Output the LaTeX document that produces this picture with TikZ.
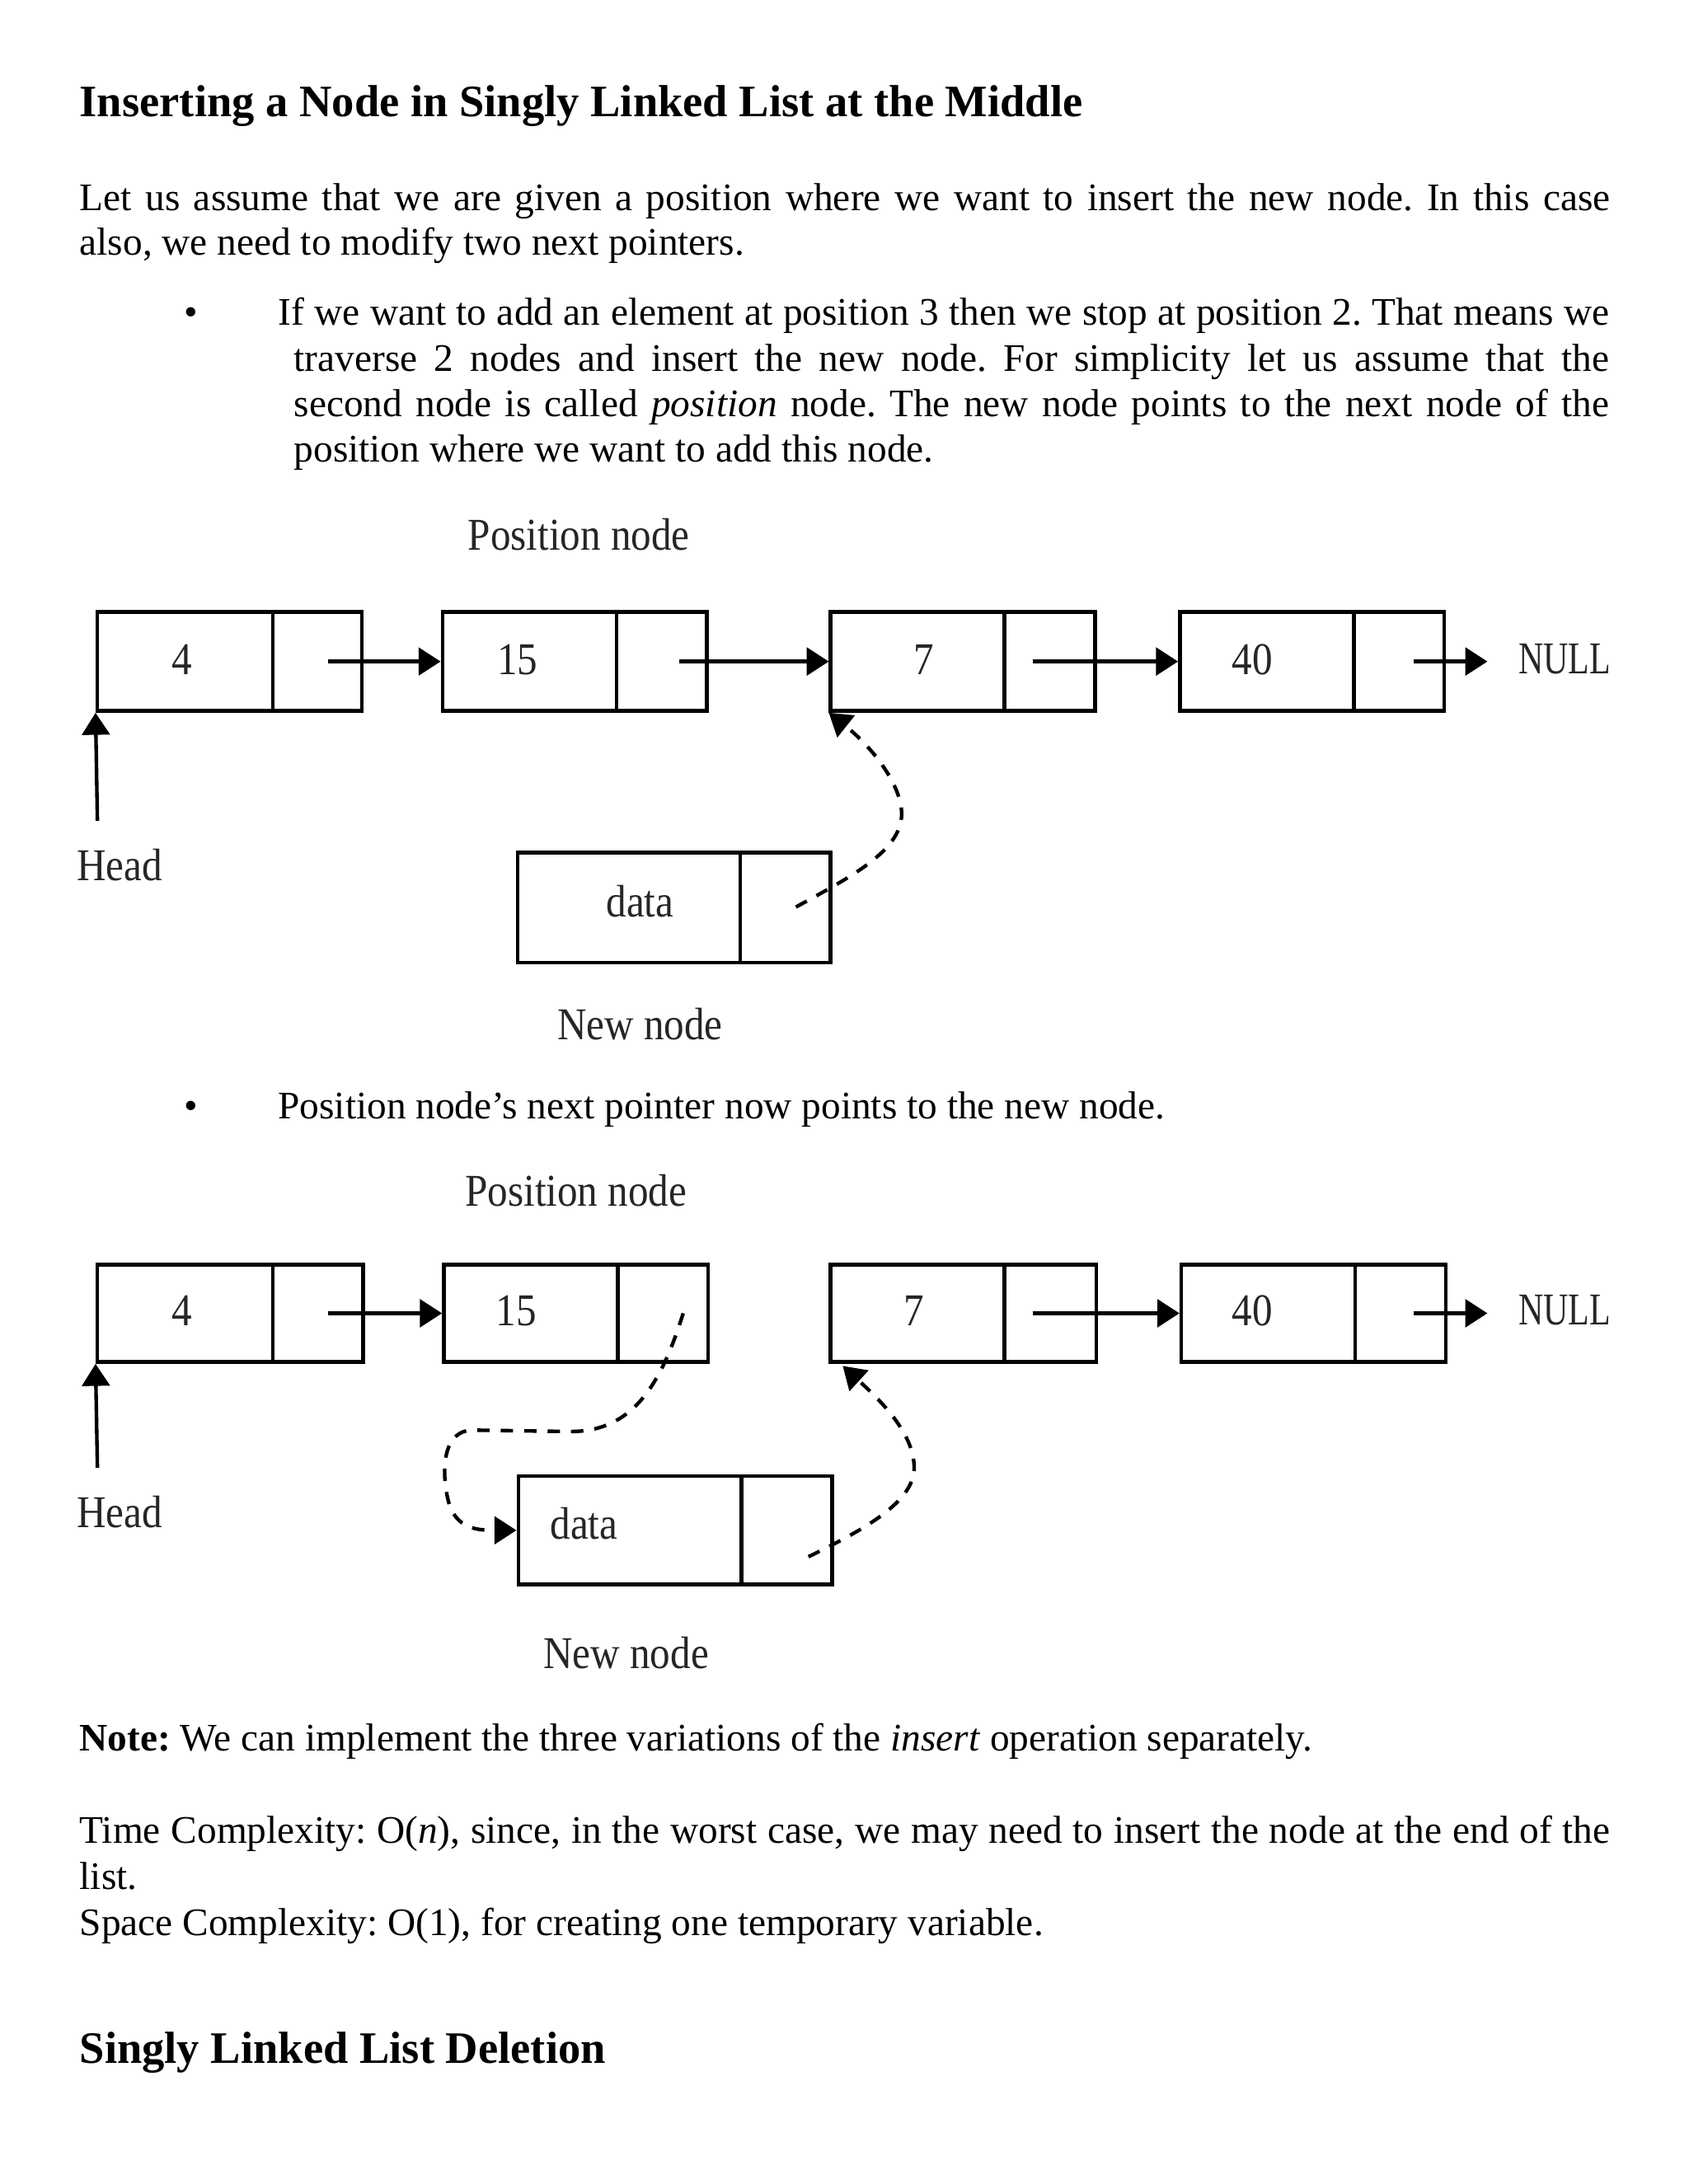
\documentclass[tikz,border=0pt]{standalone}
\usepackage{fontspec}
\setmainfont{Liberation Serif}
\newfontfamily\dfont[FakeStretch=0.89]{Liberation Serif}
\newfontfamily\nfont[FakeStretch=0.76]{Liberation Serif}
\usetikzlibrary{arrows.meta,fit,calc}
\frenchspacing
\begin{document}
\frenchspacing
\begin{tikzpicture}[x=0.5044pt,y=-0.5044pt,
  cellbox/.style={draw, line width=1.35pt, inner sep=0pt},
  val/.style={font=\dfont\fontsize{16.5}{18}\selectfont, text=black!85, inner sep=0pt},
  nullval/.style={font=\nfont\fontsize{16.5}{18}\selectfont, text=black!85, inner sep=0pt, anchor=west},
  ptr/.style={-{Triangle[length=8pt,width=10pt]}, line width=1.3pt},
  dptr/.style={ptr, dash pattern=on 4.5pt off 4pt},
  body/.style={anchor=base west, inner sep=0pt, font=\fontsize{14.15}{16.5}\selectfont},
  heading/.style={anchor=base west, inner sep=0pt, font=\bfseries\fontsize{16.3}{19}\selectfont},
  bul/.style={anchor=base, inner sep=0pt, font=\fontsize{14.15}{16.5}\selectfont}
]
\fill[white] (0,0) rectangle (1213.3,1569.9);
\path[use as bounding box] (0,0) rectangle (1213.3,1569.9);

% ---------- text ----------
\node[heading] (h1) at (56.9,83.9) {Inserting a Node in Singly Linked List at the Middle};
\node[body] (t1) at (56.9,151.1) {\makebox[554.8pt][s]{Let us assume that we are given a position where we want to insert the new node. In this case}};
\node[body] (t2) at (56.9,183.6) {also, we need to modify two next pointers.};
\node[bul] (b1) at (137.2,234) {•};
\node[body] (t3) at (199.5,234) {\makebox[482.5pt][s]{If we want to add an element at position 3 then we stop at position 2. That means we}};
\node[body] (t4) at (210.9,266.6) {\makebox[476.7pt][s]{traverse 2 nodes and insert the new node. For simplicity let us assume that the}};
\node[body] (t5) at (210.9,299.2) {\makebox[476.7pt][s]{second node is called \textit{position} node. The new node points to the next node of the}};
\node[body] (t6) at (210.9,331.8) {position where we want to add this node.};
\node[bul] (b2) at (137.2,804) {•};
\node[body] (t7) at (199.5,804) {Position node’s next pointer now points to the new node.};
\node[body] (t8) at (56.9,1258.3) {\textbf{Note:} We can implement the three variations of the \textit{insert} operation separately.};
\node[body] (t9) at (56.9,1325) {\makebox[554.8pt][s]{Time Complexity: O(\textit{n}), since, in the worst case, we may need to insert the node at the end of the}};
\node[body] (t10) at (56.9,1358.2) {list.};
\node[body] (t11) at (56.9,1391.2) {Space Complexity: O(1), for creating one temporary variable.};
\node[heading] (h2) at (56.9,1483) {Singly Linked List Deletion};

% ---------- diagram 1 ----------
\node[val] (pos1) at (416,384) {Position node};
\node[cellbox, fit={(70,440) (196,511)}] (a1d) {};
\node[cellbox, fit={(196,440) (260,511)}] (a1p) {};
\node[cellbox, fit={(318,440) (443,511)}] (a2d) {};
\node[cellbox, fit={(443,440) (508,511)}] (a2p) {};
\node[cellbox, fit={(597,440) (722,511)}] (a3d) {};
\node[cellbox, fit={(722,440) (787,511)}] (a3p) {};
\node[cellbox, fit={(848,440) (973,511)}] (a4d) {};
\node[cellbox, fit={(973,440) (1038,511)}] (a4p) {};
\node[val] (v11) at (131,474) {4};
\node[val] (v12) at (372,474) {15};
\node[val] (v13) at (664,474) {7};
\node[val] (v14) at (900,474) {40};
\node[nullval] (n1) at (1091,474) {NULL};
\coordinate (n1e) at (1069,475.5);
\draw[ptr] ($(a1p.center)+(8,0)$) -- (a2d.west);
\draw[ptr] ($(a2p.center)+(12.5,0)$) -- (a3d.west);
\draw[ptr] ($(a3p.center)+(-12.5,0)$) -- (a4d.west);
\draw[ptr] ($(a4p.center)+(10.5,0)$) -- (n1e);
\coordinate (hd1) at (70,590);
\draw[ptr] (hd1) -- (a1d.south west);
\node[val] (head1) at (86,622) {Head};
\node[cellbox, fit={(372,613) (532,692)}] (a5d) {};
\node[cellbox, fit={(532,613) (597,692)}] (a5p) {};
\node[val] (v15) at (460,648) {data};
\node[val] (new1) at (460,736) {New node};
\coordinate (d1s) at (572,652);
\draw[dptr] (d1s) .. controls (610,631) and (648,612) .. (648,585) .. controls (648,565) and (628,538) .. (a3d.south west);

% ---------- diagram 2 ----------
\node[val] (pos2) at (414,856) {Position node};
\node[cellbox, fit={(70,909) (196,979)}] (b1d) {};
\node[cellbox, fit={(196,909) (261,979)}] (b1p) {};
\node[cellbox, fit={(319,909) (444,979)}] (b2d) {};
\node[cellbox, fit={(444,909) (509,979)}] (b2p) {};
\node[cellbox, fit={(597,909) (722,979)}] (b3d) {};
\node[cellbox, fit={(722,909) (788,979)}] (b3p) {};
\node[cellbox, fit={(849,909) (974,979)}] (b4d) {};
\node[cellbox, fit={(974,909) (1039,979)}] (b4p) {};
\node[val] (v21) at (131,942) {4};
\node[val] (v22) at (371,942) {15};
\node[val] (v23) at (657,942) {7};
\node[val] (v24) at (900,942) {40};
\node[nullval] (n2) at (1091,942) {NULL};
\coordinate (n2e) at (1069,944);
\draw[ptr] ($(b1p.center)+(7.5,0)$) -- (b2d.west);
\draw[ptr] ($(b3p.center)+(-13,0)$) -- (b4d.west);
\draw[ptr] ($(b4p.center)+(9.5,0)$) -- (n2e);
\coordinate (hd2) at (70,1055);
\draw[ptr] (hd2) -- (b1d.south west);
\node[val] (head2) at (86,1087) {Head};
\node[cellbox, fit={(372.5,1061) (533,1139)}] (b5d) {};
\node[cellbox, fit={(533,1061) (598,1139)}] (b5p) {};
\node[val, anchor=west] (v25) at (395,1095) {data};
\node[val] (new2) at (450,1188) {New node};
\coordinate (d2s) at (491,944);
\draw[dptr] (d2s) .. controls (475,995) and (455,1029) .. (410,1029) -- (340,1028) .. controls (316,1028) and (318,1062) .. (322,1078) .. controls (327,1100) and (345,1100) .. (b5d.west);
\coordinate (d3s) at (581,1119);
\draw[dptr] (d3s) .. controls (620,1100) and (657,1080) .. (657,1055) .. controls (657,1030) and (632,1006) .. ($(b3d.south west)+(10,1.5)$);
\end{tikzpicture}
\end{document}
